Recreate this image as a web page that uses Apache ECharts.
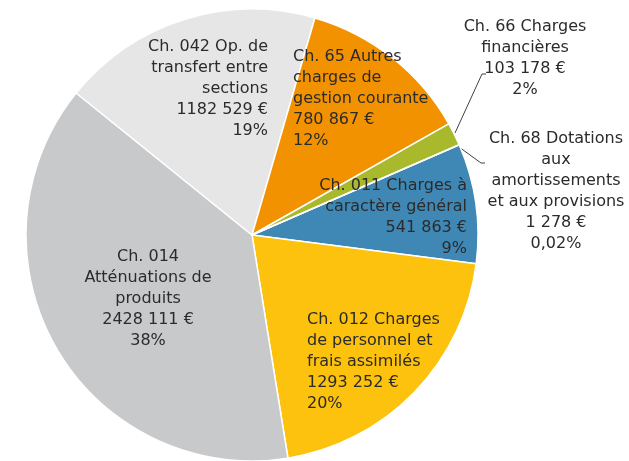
<!DOCTYPE html>
<html>
<head>
<meta charset="utf-8">
<script src="https://cdn.jsdelivr.net/npm/echarts@6/dist/echarts.min.js"></script>
<style>
html,body{margin:0;padding:0;background:#fff;}
#chart{width:629px;height:461px;}
</style>
</head>
<body>
<div id="chart"></div>
<script>
// Data (clockwise order starting from Ch. 011)
const categories = [
  "Ch. 011 Charges à\ncaractère général",
  "Ch. 012 Charges\nde personnel et\nfrais assimilés",
  "Ch. 014\nAtténuations de\nproduits",
  "Ch. 042 Op. de\ntransfert entre\nsections",
  "Ch. 65 Autres\ncharges de\ngestion courante",
  "Ch. 66 Charges\nfinancières",
  "Ch. 68 Dotations\naux\namortissements\net aux provisions"
];
const values = [541863, 1293252, 2428111, 1182529, 780867, 103178, 1278];
const valueLabels = ["541 863 €", "1293 252 €", "2428 111 €", "1182 529 €", "780 867 €", "103 178 €", "1 278 €"];
const percentLabels = ["9%", "20%", "38%", "19%", "12%", "2%", "0,02%"];
const colors = ["#3f88b5", "#fdc20d", "#c8c9cb", "#e6e6e6", "#f39200", "#a8b92b", "#7f7f7f"];

// label placement (layout, not data)
const labelPos = [
  {x: 467, y: 175, align: 'right'},
  {x: 307, y: 309, align: 'left'},
  {x: 148, y: 246, align: 'center'},
  {x: 268, y: 36, align: 'right'},
  {x: 293, y: 46, align: 'left'},
  {x: 525, y: 16, align: 'center'},
  {x: 556, y: 128, align: 'center'}
];
const linePts = {
  5: [[455, 133], [482, 74], [486, 74]],
  6: [[459, 147], [481, 163], [485, 163]]
};

const chart = echarts.init(document.getElementById('chart'), null, {renderer: 'canvas'});
const data = categories.map((c, i) => {
  const outside = i >= 5;
  return {
    name: c,
    value: values[i],
    itemStyle: {color: colors[i]},
    label: {position: outside ? 'outside' : 'inside'},
    labelLine: {show: outside}
  };
});

chart.setOption({
  animation: false,
  series: [{
    type: 'pie',
    center: [252, 235],
    radius: 226,
    startAngle: 23.5,
    clockwise: true,
    avoidLabelOverlap: false,
    minAngle: 0,
    data: data,
    itemStyle: {borderColor: '#ffffff', borderWidth: 1.5},
    label: {
      show: true,
      color: '#2b2b2b',
      fontFamily: 'DejaVu Sans',
      fontSize: 16,
      lineHeight: 21,
      formatter: p => categories[p.dataIndex] + '\n' + valueLabels[p.dataIndex] + '\n' + percentLabels[p.dataIndex]
    },
    labelLine: {lineStyle: {color: '#404040', width: 1}, length: 10, length2: 5},
    labelLayout: function (params) {
      const i = params.dataIndex;
      const lp = labelPos[i];
      const r = {x: lp.x, y: lp.y, align: lp.align, verticalAlign: 'top'};
      if (linePts[i]) r.labelLinePoints = linePts[i];
      return r;
    }
  }]
});
</script>
</body>
</html>
